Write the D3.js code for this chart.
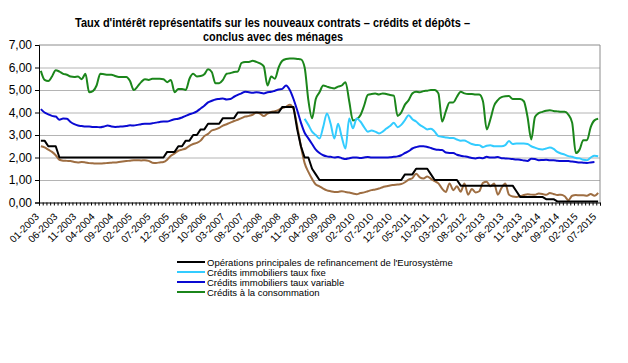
<!DOCTYPE html>
<html lang="fr">
<head>
<meta charset="utf-8">
<title>Taux d'intérêt représentatifs</title>
<script src="https://cdn.jsdelivr.net/npm/d3@7"></script>
<style>
  body { margin: 0; background: #fff; }
  svg { font-family: "Liberation Sans", Arial, sans-serif; }
  .grid line { stroke: #b4b4b4; stroke-width: 1; }
  .grid .domain { display: none; }
  .line { fill: none; stroke-width: 2; stroke-linejoin: round; }
</style>
</head>
<body>
<script>

// months 01-2003 .. 07-2015
var months = d3.timeMonth.range(new Date(2003, 0, 1), new Date(2015, 7, 1)).map(d3.timeFormat("%m-%Y"));

var tickLabels = ["01-2003","06-2003","11-2003","04-2004","09-2004","02-2005","07-2005","12-2005",
  "05-2006","10-2006","03-2007","08-2007","01-2008","06-2008","11-2008","04-2009","09-2009",
  "02-2010","07-2010","12-2010","05-2011","10-2011","03-2012","08-2012","01-2013","06-2013",
  "11-2013","04-2014","09-2014","02-2015","07-2015"];

var yTicks = [0, 1, 2, 3, 4, 5, 6, 7];

// Opérations principales de refinancement de l'Eurosystème
var refi = [2.75,2.75,2.5,2.5,2.5,2,2,2,2,2,
  2,2,2,2,2,2,2,2,2,2,
  2,2,2,2,2,2,2,2,2,2,
  2,2,2,2,2.25,2.25,2.25,2.5,2.5,2.75,
  2.75,3,3,3.25,3.25,3.5,3.5,3.5,3.5,3.75,
  3.75,3.75,3.75,4,4,4,4,4,4,4,
  4,4,4,4,4,4.25,4.25,4.25,4.25,3.25,
  2.5,2,2,1.5,1.25,1,1,1,1,1,
  1,1,1,1,1,1,1,1,1,1,
  1,1,1,1,1,1,1,1,1.25,1.25,
  1.25,1.5,1.5,1.5,1.5,1.25,1,1,1,1,
  1,1,1,0.75,0.75,0.75,0.75,0.75,0.75,0.75,
  0.75,0.75,0.75,0.75,0.75,0.75,0.75,0.75,0.5,0.25,
  0.25,0.25,0.25,0.25,0.25,0.25,0.15,0.15,0.15,0.05,
  0.05,0.05,0.05,0.05,0.05,0.05,0.05,0.05,0.05,0.05,0.05];

// Crédits immobiliers taux fixe (série commençant en 12-2008)
var fixeStart = "12-2008";
var fixe = [3.72,3.45,3.15,3.0,2.84,3.36,3.96,3.5,2.84,
  3.5,2.9,2.4,3.73,3.3,3.73,3.6,3.35,3.15,3.2,
  3.15,3.07,3.15,3.29,3.4,3.55,3.35,3.45,3.66,3.88,
  3.7,3.6,3.45,3.35,3.25,3.28,3.15,2.95,2.92,2.89,
  2.87,2.87,2.8,2.75,2.76,2.68,2.6,2.56,2.55,2.46,
  2.52,2.54,2.5,2.5,2.5,2.55,2.73,2.6,2.62,2.62,
  2.62,2.6,2.5,2.44,2.38,2.36,2.4,2.44,2.38,2.25,
  2.18,2.13,2.06,2.03,1.98,1.96,1.9,1.88,2.0,2.08,2.06];

// Crédits immobiliers taux variable
var variable = [4.15,4.0,3.92,3.85,3.82,3.68,3.73,3.72,3.58,3.48,
  3.42,3.4,3.38,3.38,3.36,3.36,3.34,3.38,3.42,3.38,
  3.36,3.37,3.38,3.4,3.43,3.42,3.45,3.48,3.5,3.5,
  3.52,3.55,3.58,3.6,3.6,3.65,3.7,3.72,3.78,3.85,
  3.92,3.97,4.05,4.18,4.3,4.45,4.52,4.58,4.6,4.62,
  4.58,4.6,4.7,4.78,4.85,4.92,4.9,4.88,4.9,4.88,
  4.85,4.9,4.92,4.97,5.02,5.05,5.2,5.0,4.6,4.1,
  3.55,3.1,2.85,2.6,2.35,2.2,2.1,2.05,2.03,2.0,
  2.02,1.97,1.93,1.97,2.0,2.0,1.98,2.0,2.02,2.0,
  2.0,2.0,2.0,2.0,2.01,2.03,2.05,2.1,2.2,2.28,
  2.4,2.46,2.5,2.5,2.47,2.42,2.37,2.34,2.33,2.22,
  2.2,2.2,2.12,2.08,2.05,2.02,1.98,1.96,1.99,1.97,
  2.03,2.0,2.0,2.02,1.97,1.96,1.95,1.93,1.91,1.9,
  1.87,1.85,1.94,1.93,1.88,1.89,1.9,1.88,1.88,1.86,
  1.85,1.85,1.84,1.82,1.8,1.78,1.77,1.76,1.78,1.8];

// Crédits à la consommation
var conso = [5.85,5.45,5.4,5.6,5.88,5.82,5.72,5.68,5.6,5.58,
  5.6,5.48,5.72,4.9,4.95,5.2,5.72,5.7,5.68,5.68,
  5.62,5.58,5.58,5.58,5.4,5.0,5.15,5.35,5.48,5.45,
  5.5,5.5,5.5,5.48,5.35,5.45,4.9,5.05,5.05,5.0,
  5.5,5.72,5.6,5.62,5.7,5.92,5.8,5.3,5.3,5.45,
  5.72,5.75,5.8,5.82,6.2,6.25,6.25,6.3,6.25,6.18,
  6.05,5.2,5.6,5.5,6.0,6.3,6.38,6.4,6.4,6.38,
  6.36,6.0,4.55,3.75,4.6,4.9,5.2,5.15,5.1,5.07,
  5.15,5.2,5.35,4.5,3.65,3.7,3.88,4.3,4.78,4.82,
  4.84,4.8,4.85,4.82,4.78,4.75,3.85,4.0,4.35,4.55,
  4.85,4.92,4.9,4.95,4.97,5.0,5.0,4.85,3.6,4.05,
  4.45,4.45,4.7,4.92,4.85,4.82,4.82,4.8,4.8,4.5,
  3.25,3.7,4.3,4.55,4.68,4.72,4.73,4.6,4.6,4.6,
  4.5,3.8,2.8,3.8,3.97,4.03,4.08,4.1,4.07,4.05,
  4.03,4.03,3.9,3.55,2.2,2.35,2.77,2.77,3.35,3.65,3.72];

// Dépôts (courbe marron, hors légende)
var depots = [2.5,2.45,2.35,2.25,2.1,1.9,1.86,1.85,1.84,1.8,
  1.78,1.8,1.78,1.75,1.74,1.73,1.73,1.74,1.76,1.77,
  1.78,1.8,1.82,1.84,1.86,1.88,1.88,1.87,1.88,1.85,
  1.77,1.76,1.78,1.8,1.9,2.08,2.18,2.3,2.35,2.4,
  2.52,2.6,2.65,2.75,2.95,3.05,3.2,3.25,3.32,3.42,
  3.48,3.55,3.62,3.68,3.75,3.82,3.85,3.9,4.0,3.95,
  3.84,3.95,4.02,4.06,4.12,4.2,4.25,4.35,4.15,3.4,
  2.5,1.75,1.36,1.05,0.8,0.72,0.62,0.54,0.5,0.47,
  0.47,0.5,0.47,0.44,0.4,0.37,0.42,0.45,0.5,0.55,
  0.58,0.62,0.68,0.72,0.76,0.78,0.8,0.82,0.9,1.02,
  1.08,1.28,1.12,1.07,1.16,1.05,0.95,0.85,0.62,0.47,
  0.85,0.55,0.72,0.48,0.84,0.35,0.6,0.45,0.5,0.87,
  0.92,0.72,0.84,0.35,0.65,0.84,0.35,0.27,0.25,0.28,
  0.33,0.37,0.35,0.34,0.4,0.38,0.34,0.42,0.38,0.33,
  0.35,0.28,0.1,0.3,0.33,0.32,0.32,0.3,0.38,0.3,0.43];

var seriesNames = ["Opérations principales de refinancement de l'Eurosystème",
  "Crédits immobiliers taux fixe",
  "Crédits immobiliers taux variable",
  "Crédits à la consommation"];
var colors = ["#000000", "#33ccff", "#0a0ad2", "#1b861b"];
var depotsColor = "#9e6e42";

var W = 628, H = 363;
var plotL = 39, plotR = 600, plotT = 45, plotB = 202.5;

var svg = d3.select("body").append("svg")
  .attr("width", W).attr("height", H);

var x = d3.scaleBand().domain(months).range([plotL, plotR]).padding(0);
var xb = d3.scaleLinear().domain([0, months.length]).range([plotL, plotR]);
var y = d3.scaleLinear().domain([0, 7]).range([plotB, plotT]);
var cx = function(m) { return x(m) + x.bandwidth() / 2; };

// title
var title = svg.append("g").attr("font-weight", "bold").attr("font-size", 12.5)
  .attr("text-anchor", "middle").attr("fill", "#000");
title.append("text").attr("x", 272.5).attr("y", 27)
  .attr("textLength", 395).attr("lengthAdjust", "spacingAndGlyphs")
  .text("Taux d'intérêt représentatifs  sur les nouveaux contrats – crédits et dépôts –");
title.append("text").attr("x", 273).attr("y", 40.5)
  .attr("textLength", 140).attr("lengthAdjust", "spacingAndGlyphs")
  .text("conclus avec des ménages");

// gridlines
svg.append("g").attr("class", "grid")
  .attr("transform", "translate(" + plotL + ",0)")
  .call(d3.axisLeft(y).tickValues(yTicks.slice(1, -1)).tickSize(-(plotR - plotL)).tickFormat(""));

// plot border (top, right)
svg.append("path")
  .attr("d", "M" + plotL + "," + y(7) + "H" + plotR + "V" + plotB)
  .attr("fill", "none").attr("stroke", "#8c8c8c");

// lines
var line = d3.line()
  .defined(function(d) { return d.v != null; })
  .x(function(d) { return cx(d.m); })
  .y(function(d) { return y(d.v); })
  .curve(d3.curveMonotoneX);
var stepLine = d3.line()
  .x(function(d) { return cx(d.m); })
  .y(function(d) { return y(d.v); });

function pairs(vals, start) {
  var i0 = months.indexOf(start || months[0]);
  return vals.map(function(v, i) { return { m: months[i0 + i], v: v }; });
}

svg.append("path").attr("class", "line").attr("stroke", depotsColor).attr("d", line(pairs(depots)));
svg.append("path").attr("class", "line").attr("stroke", colors[3]).attr("d", line(pairs(conso)));
svg.append("path").attr("class", "line").attr("stroke", colors[1]).attr("d", line(pairs(fixe, fixeStart)));
svg.append("path").attr("class", "line").attr("stroke", colors[2]).attr("d", line(pairs(variable)));
svg.append("path").attr("class", "line").attr("stroke", colors[0]).attr("d", stepLine(pairs(refi)));

// y axis
var yAxis = svg.append("g")
  .attr("transform", "translate(" + plotL + ",0)")
  .call(d3.axisLeft(y).tickValues(yTicks).tickSize(4).tickPadding(3)
    .tickFormat(function(d) { return d3.format(".2f")(d).replace(".", ","); }));
yAxis.selectAll("text").attr("font-size", 12).attr("font-family", "Liberation Sans, Arial, sans-serif");

// x axis: minor ticks between months
svg.append("g")
  .attr("transform", "translate(0," + plotB + ")")
  .call(d3.axisBottom(xb).tickValues(d3.range(months.length + 1)).tickSize(3).tickFormat(""));

// x labels
var xLab = svg.append("g")
  .attr("transform", "translate(0," + plotB + ")")
  .call(d3.axisBottom(x).tickValues(tickLabels).tickSize(0).tickPadding(0));
xLab.select(".domain").remove();
xLab.selectAll("text")
  .attr("font-size", 10)
  .attr("font-family", "Liberation Sans, Arial, sans-serif")
  .attr("text-anchor", "end")
  .attr("dy", null)
  .attr("y", 0)
  .attr("transform", "translate(-3,13) rotate(-45)")
  .attr("dominant-baseline", "middle");

// legend
var leg = svg.append("g").attr("font-size", 9.5);
seriesNames.forEach(function(name, i) {
  var ly = 262 + i * 10;
  leg.append("line").attr("x1", 177).attr("x2", 205).attr("y1", ly).attr("y2", ly)
    .attr("stroke", colors[i]).attr("stroke-width", 2);
  leg.append("text").attr("x", 207).attr("y", ly + 3.5).text(name);
});

</script>
</body>
</html>
